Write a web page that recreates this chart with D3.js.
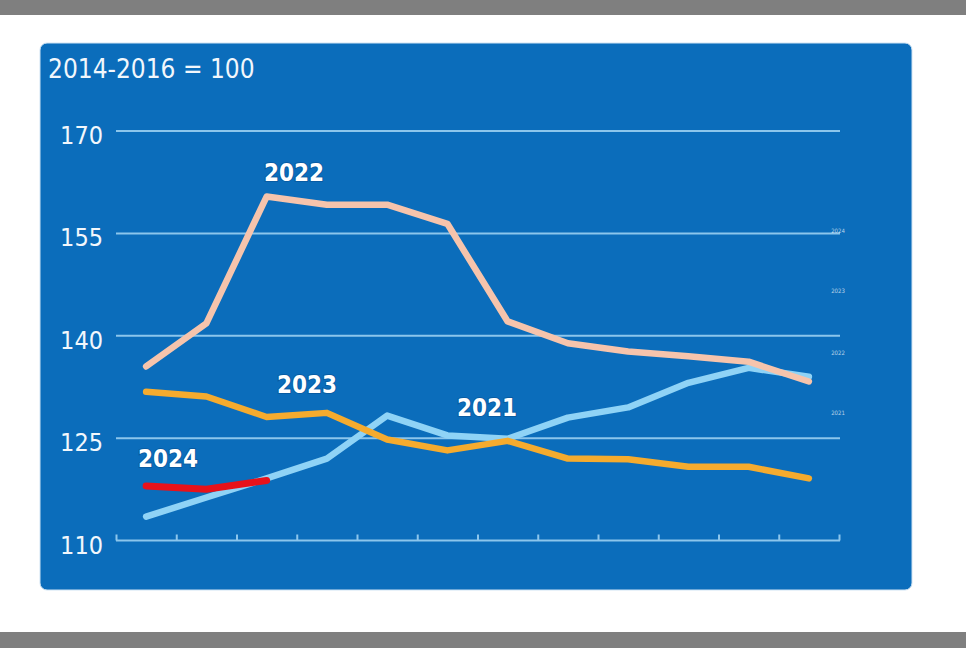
<!DOCTYPE html>
<html><head><meta charset="utf-8">
<script src="https://cdn.jsdelivr.net/npm/d3@7"></script>
<style>
html,body{margin:0;padding:0;background:#fff;}
svg{display:block;}
</style></head>
<body>
<script>
// ---- data ----
const months = ["Jan","Feb","Mar","Apr","May","Jun","Jul","Aug","Sep","Oct","Nov","Dec"];
const yTicks = [110, 125, 140, 155, 170];
const s2021 = [113.5, 116.3, 119.1, 122.0, 128.3, 125.4, 124.9, 128.0, 129.5, 133.1, 135.3, 134.0];
const s2022 = [135.5, 141.8, 160.4, 159.2, 159.2, 156.4, 142.1, 138.9, 137.7, 137.0, 136.2, 133.3];
const s2023 = [131.8, 131.1, 128.1, 128.7, 124.8, 123.2, 124.6, 122.0, 121.9, 120.8, 120.8, 119.1];
const s2024 = [118.0, 117.5, 118.8];
const seriesNames = ["2021", "2022", "2023", "2024"];
const baseLabel = "2014-2016 = 100";

const W = 966, H = 648;
const svg = d3.select("body").append("svg").attr("width", W).attr("height", H);

// page frame
svg.append("rect").attr("x",0).attr("y",0).attr("width",W).attr("height",H).attr("fill","#fff");
svg.append("rect").attr("x",0).attr("y",0).attr("width",W).attr("height",15).attr("fill","#7f7f7f");
svg.append("rect").attr("x",0).attr("y",632).attr("width",W).attr("height",16).attr("fill","#7f7f7f");

// blue panel
svg.append("rect").attr("x",40).attr("y",43).attr("width",872).attr("height",547)
  .attr("rx",7).attr("fill","#0b6dbb").attr("stroke","#cfe3f3").attr("stroke-width",1);

const font = "'DejaVu Sans Condensed','DejaVu Sans',sans-serif";

const x = d3.scaleBand().domain(months).range([116, 839]).padding(0);
const y = d3.scaleLinear().domain([110, 170]).range([540.5, 131]);
const gridCol = "#8cc6ec";

// gridlines
svg.append("g").selectAll("line").data(yTicks.filter(d => d !== 110)).join("line")
  .attr("x1", 116).attr("x2", 840)
  .attr("y1", d => y(d)).attr("y2", d => y(d))
  .attr("stroke", gridCol).attr("stroke-width", 2);

// y labels
svg.append("g").selectAll("text").data(yTicks).join("text")
  .attr("x", 103).attr("y", d => y(d) + 13)
  .attr("text-anchor", "end")
  .attr("font-family", font).attr("font-size", 25)
  .attr("fill", "#f2f7fc").text(d => d);

// x axis (ticks pointing upward at month boundaries)
const edge = d3.scaleLinear().domain([0, months.length]).range(x.range());
const xAxis = d3.axisTop(edge).tickValues(d3.range(months.length + 1)).tickSize(6).tickFormat("");
const gx = svg.append("g").attr("transform", `translate(0,${y(110)})`).call(xAxis);
gx.select(".domain").remove();
gx.selectAll(".tick line").attr("stroke", gridCol).attr("stroke-width", 2);
svg.append("line").attr("x1", 116).attr("x2", 840).attr("y1", y(110)).attr("y2", y(110))
  .attr("stroke", gridCol).attr("stroke-width", 2);

// base label
svg.append("text").attr("x", 48).attr("y", 78)
  .attr("font-family", font).attr("font-size", 26).attr("fill", "#f2f7fc").text(baseLabel);

const line = d3.line().x((d, i) => x(months[i]) + x.bandwidth() / 2).y(d => y(d));
const draw = (data, color, w) => svg.append("path").datum(data)
  .attr("d", line).attr("fill", "none").attr("stroke", color).attr("stroke-width", w)
  .attr("stroke-linejoin", "round").attr("stroke-linecap", "round");

draw(s2021, "#8fd3f6", 6.5);
draw(s2023, "#f5ab2e", 6.5);
draw(s2022, "#f6c4ac", 6.5);
draw(s2024, "#e8121a", 7);

// series labels
const lab = [
  {t: seriesNames[1], x: 294, y: 181},
  {t: seriesNames[2], x: 307, y: 393},
  {t: seriesNames[0], x: 487, y: 416},
  {t: seriesNames[3], x: 168, y: 467}
];
svg.append("g").selectAll("text").data(lab).join("text")
  .attr("x", d => d.x).attr("y", d => d.y).attr("text-anchor", "middle")
  .attr("font-family", font).attr("font-weight", "bold").attr("font-size", 24)
  .attr("fill", "#ffffff").attr("style", "paint-order:stroke")
  .attr("stroke", "rgba(0,40,90,0.25)").attr("stroke-width", 2)
  .text(d => d.t);

// tiny faint labels on right
const tiny = [{t:"2024", y:233},{t:"2023", y:293},{t:"2022", y:355},{t:"2021", y:415}];
svg.append("g").selectAll("text").data(tiny).join("text")
  .attr("x", 838).attr("y", d => d.y).attr("text-anchor", "middle")
  .attr("font-family", font).attr("font-size", 6).attr("fill", "rgba(255,255,255,0.7)")
  .text(d => d.t);
</script>
</body></html>
